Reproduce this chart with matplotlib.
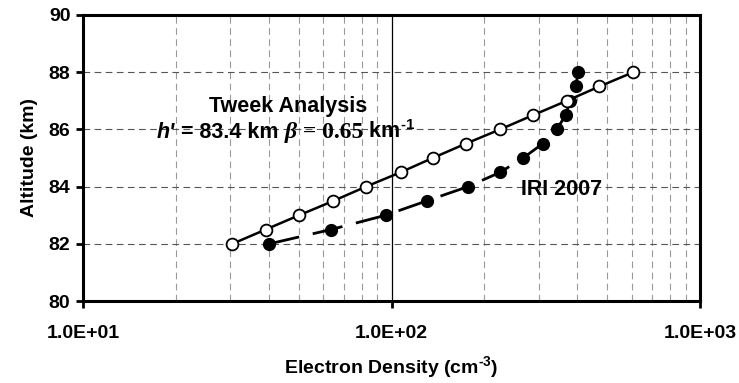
import matplotlib
matplotlib.use("Agg")
import matplotlib.pyplot as plt
from matplotlib.ticker import FixedLocator, NullFormatter

plt.rcParams["font.family"] = ["Liberation Sans", "DejaVu Sans"]
plt.rcParams["font.weight"] = "bold"
plt.rcParams["mathtext.fontset"] = "custom"
plt.rcParams["mathtext.rm"] = "Liberation Sans:bold"
plt.rcParams["mathtext.bf"] = "Liberation Sans:bold"
plt.rcParams["mathtext.it"] = "Liberation Sans:bold:italic"

# Tweek analysis profile (open circles)
tweek_alt = [82.0, 82.5, 83.0, 83.5, 84.0, 84.5, 85.0, 85.5, 86.0, 86.5, 87.0, 87.5, 88.0]
tweek_ne = [30.5, 39.1, 50.2, 64.8, 82.7, 107, 136, 174, 225, 288, 370, 472, 608]

# IRI 2007 profile (filled circles)
iri_alt = [82.0, 82.5, 83.0, 83.5, 84.0, 84.5, 85.0, 85.5, 86.0, 86.5, 87.0, 87.5, 88.0]
iri_ne = [40.2, 63.7, 95.8, 130, 177, 225, 267, 309, 343, 367, 379, 395, 403]

xticks = [10, 100, 1000]
xticklabels = ["1.0E+01", "1.0E+02", "1.0E+03"]
yticks = [80, 82, 84, 86, 88, 90]
minor_x = [20, 30, 40, 50, 60, 70, 80, 90, 200, 300, 400, 500, 600, 700, 800, 900]

fig = plt.figure(figsize=(7.39, 3.83), dpi=100)
ax = fig.add_axes([0.1123, 0.214, 0.835, 0.747])

ax.set_xscale("log")
ax.set_xlim(10, 1000)
ax.set_ylim(80, 90)

# grid
for xv in minor_x:
    ax.axvline(xv, color="#999999", lw=0.8, dashes=(6, 4), zorder=1)
ax.axvline(100, color="black", lw=0.9, zorder=1)
for yv in yticks[1:-1]:
    ax.axhline(yv, color="#555555", lw=0.8, dashes=(6, 4), zorder=1)

ax.plot(iri_ne, iri_alt, color="black", lw=2, dashes=(11, 5), marker="o",
        ms=8.5, mfc="black", mec="black", zorder=3)
ax.plot(tweek_ne, tweek_alt, color="black", lw=1.8, marker="o",
        ms=8.5, mfc="white", mec="black", mew=1.3, zorder=4)

ax.xaxis.set_major_locator(FixedLocator(xticks))
ax.set_xticklabels(xticklabels)
ax.xaxis.set_minor_locator(FixedLocator(minor_x))
ax.xaxis.set_minor_formatter(NullFormatter())
ax.set_yticks(yticks)
ax.tick_params(axis="both", which="major", direction="out", length=5, width=2,
               labelsize=14)
ax.tick_params(axis="x", which="major", pad=12)
ax.tick_params(axis="x", which="minor", length=0)
ax.tick_params(axis="y", pad=4)
for s in ax.spines.values():
    s.set_linewidth(2.2)

ax.set_xlabel(r"Electron Density (cm$^{\text{-}3}$)", fontsize=14, fontweight="bold", labelpad=9)
ax.set_ylabel("Altitude (km)", fontsize=14, fontweight="bold", labelpad=8)

ax.text(0.332, 0.661, "Tweek Analysis", transform=ax.transAxes, ha="center",
        va="baseline", fontsize=15.5, fontweight="bold")
t1 = ax.text(0.12, 0.57, "h'", transform=ax.transAxes, va="baseline",
             fontsize=15.5, fontweight="bold", fontstyle="italic")
t2 = ax.annotate(" = 83.4 km ", xy=(1, 0), xycoords=t1, va="bottom",
                 fontsize=15.5, fontweight="bold")
t3 = ax.annotate("β", xy=(1, 0), xycoords=t2, va="bottom", fontsize=17,
                 family="Liberation Serif", fontweight="bold", fontstyle="italic")
t4 = ax.annotate(" = 0.65", xy=(1, 0), xycoords=t3, va="bottom",
                 fontsize=17, family="Liberation Serif", fontweight="bold")
ax.annotate(r" km$^{\text{-}1}$", xy=(1, 0), xycoords=t4, va="bottom",
            fontsize=15.5, fontweight="bold")

ax.text(0.776, 0.371, "IRI 2007", transform=ax.transAxes, ha="center",
        va="baseline", fontsize=15.5, fontweight="bold")

fig.savefig("out.png", dpi=100)
